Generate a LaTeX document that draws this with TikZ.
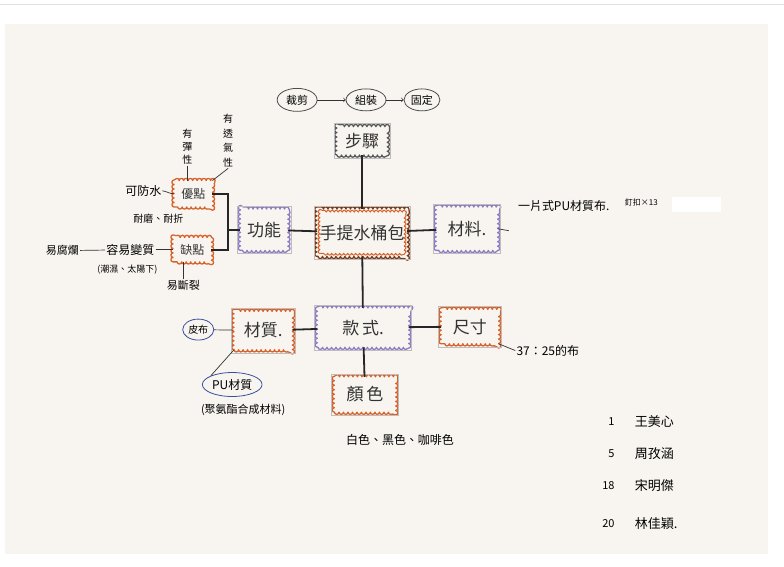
\documentclass[tikz,border=0pt]{standalone}
\usepackage{fontspec}
\setmainfont{Noto Sans CJK TC}
\usetikzlibrary{shapes.geometric,decorations.pathmorphing}

\definecolor{paper}{HTML}{F8F5F0}
\definecolor{orangeline}{HTML}{D8622A}
\definecolor{brownline}{HTML}{7A3A1A}
\definecolor{purpleline}{HTML}{8C7CC4}
\definecolor{blueline}{HTML}{3A4EA0}
\definecolor{cutedge}{HTML}{BDBDBD}

\tikzset{
  boxtext/.style={inner sep=2pt, text=black!80, font=\fontsize{17}{20}\selectfont},
  cloudline/.style={draw=#1, line width=1.3pt, line join=round, decorate,
    decoration={bumps, segment length=9pt, amplitude=2.2pt}},
  bubble/.style={ellipse, draw=#1, line width=0.8pt, inner sep=1pt,
    font=\fontsize{11}{13}\selectfont},
  note/.style={inner sep=1pt, font=\fontsize{11}{13}\selectfont},
  link/.style={line width=1.8pt, black!85},
  thin link/.style={line width=0.7pt, black!80}
}

\begin{document}
\begin{tikzpicture}[x=1pt, y=-1pt]
    % paper
    \fill[white] (0,0) rectangle (784,567);
    \draw[black!12, line width=1pt] (0,5) -- (784,5);
    \fill[paper] (5,24) rectangle (768,555);

    % main boxes
    \node[boxtext, minimum width=90pt, minimum height=47pt] (bag) at (362,233) {手提水桶包};
    \node[boxtext, minimum width=50pt, minimum height=28pt] (steps) at (362,141) {步驟};
    \node[boxtext, minimum width=47pt, minimum height=41pt] (func) at (264,230) {功能};
    \node[boxtext, minimum width=61pt, minimum height=43pt] (mat) at (467,229) {材料.};
    \node[boxtext, minimum width=91pt, minimum height=39pt] (style) at (363,328) {款\,式.};
    \node[boxtext, minimum width=58pt, minimum height=38pt] (fabric) at (263,331) {材質.};
    \node[boxtext, minimum width=57pt, minimum height=34pt] (size) at (470,327) {尺寸};
    \node[boxtext, minimum width=61pt, minimum height=35pt] (color) at (365,395) {顏\,色};
    \node[boxtext, font=\fontsize{12}{14}\selectfont, minimum width=38pt, minimum height=26pt] (pro) at (193,194) {優點};
    \node[boxtext, font=\fontsize{12}{14}\selectfont, minimum width=38pt, minimum height=24pt] (con) at (192,250) {缺點};

    % cloud outlines
    \foreach \n/\c in {bag/brownline, steps/black!65, func/purpleline, mat/purpleline,
                       style/purpleline, fabric/orangeline, size/orangeline,
                       color/orangeline, pro/orangeline, con/orangeline} {
        \draw[cloudline=\c] (\n.south west) rectangle (\n.north east);
    }
    \draw[cloudline=orangeline, line width=1pt, decoration={bumps, segment length=8pt, amplitude=1.8pt}]
        ([shift={(3pt,3pt)}]bag.south west) rectangle ([shift={(-3pt,-3pt)}]bag.north east);

    % cut-out edges round the boxes
    \foreach \n in {bag,steps,func,mat,style,fabric,size,color} {
        \draw[cutedge, line width=0.5pt] ([shift={(-3pt,-3pt)}]\n.south west) rectangle ([shift={(3pt,3pt)}]\n.north east);
    }

    % steps
    \node[bubble=black!70, minimum width=40pt, minimum height=23pt] (cut) at (297,100) {裁剪};
    \node[bubble=black!70, minimum width=40pt, minimum height=22pt] (join) at (366,100) {組裝};
    \node[bubble=black!70, minimum width=36pt, minimum height=22pt] (fix) at (422,100) {固定};
    \draw[thin link, ->] (cut) -- (join);
    \draw[thin link, ->] (join) -- (fix);

    % main links
    \draw[link] (steps) -- (bag);
    \draw[link] (bag) -- (func);
    \draw[link] (bag) -- (mat);
    \draw[link] (bag) -- (style);
    \draw[link] (style) -- (fabric);
    \draw[link] (style) -- (size);
    \draw[link] (style) -- (color);
    \coordinate (fork) at (228,230);
    \draw[link] (pro.east) -| (fork) |- (con.east);
    \draw[link] (fork) -- (func.west);

    % material
    \coordinate (matend) at (509,231);
    \draw[thin link] (mat.east) -- (matend);
    \node[note, anchor=west, font=\fontsize{12}{14}\selectfont] (matnote) at (517,206) {一片式PU材質布.};
    \fill[white] (672,197) rectangle (721,212);
    \node[note, anchor=west, font=\fontsize{8}{10}\selectfont] (nails) at (624,203) {釘扣×13};

    % pros
    \node[note, align=center, font=\fontsize{10}{13}\selectfont] (elastic) at (187,147) {有\\彈\\性};
    \node[note, align=center, font=\fontsize{10}{14.5}\selectfont] (breath) at (228,141) {有\\透\\氣\\性};
    \node[note, font=\fontsize{12}{14}\selectfont] (water) at (143,191) {可防水};
    \node[note, font=\fontsize{10}{12}\selectfont] (wear) at (158,219) {耐磨、耐折};
    \draw[thin link] (elastic) -- (elastic |- pro.north);
    \draw[thin link] (breath.south) -- (pro.north east);
    \draw[thin link] (water.east) to[out=-10, in=180] (pro.west);

    % cons
    \node[note, font=\fontsize{12}{14}\selectfont] (change) at (130,250) {容易變質};
    \node[note] (rot) at (62,251) {易腐爛};
    \node[note, font=\fontsize{9}{11}\selectfont] (damp) at (127,270) {(潮濕、太陽下)};
    \node[note] (crack) at (183,286) {易斷裂};
    \draw[thin link] (change) -- (con);
    \draw[thin link] (rot) -- (change);
    \draw[thin link] (crack.north) -- (crack |- con.south);

    % fabric
    \node[bubble=blueline, minimum width=28pt, minimum height=21pt, font=\fontsize{10}{12}\selectfont] (leather) at (198,330) {皮布};
    \node[bubble=blueline, minimum width=55pt, minimum height=24pt, font=\fontsize{12}{14}\selectfont] (pu) at (232,385) {PU材質};
    \node[note] (puinfo) at (243,410) {(聚氨酯合成材料)};
    \draw[thin link] (leather) -- (fabric);
    \draw[thin link] (fabric.south west) -- (pu.north west);

    % size and colour
    \node[note, font=\fontsize{12}{14}\selectfont] (ratio) at (548,351) {37：25的布};
    \draw[thin link] (size.south east) -- (ratio.west);
    \node[note, font=\fontsize{12}{14}\selectfont] (colors) at (400,441) {白色、黑色、咖啡色};

    % group members
    \foreach \num/\who/\y in {1/王美心/422, 5/周孜涵/454, 18/宋明傑/486, 20/林佳穎./524} {
        \node[note, anchor=east, font=\fontsize{11}{13}\selectfont] (num\num) at (616,\y) {\num};
        \node[note, anchor=west, font=\fontsize{13}{15}\selectfont] (who\num) at (634,\y) {\who};
    }
\end{tikzpicture}
\end{document}
